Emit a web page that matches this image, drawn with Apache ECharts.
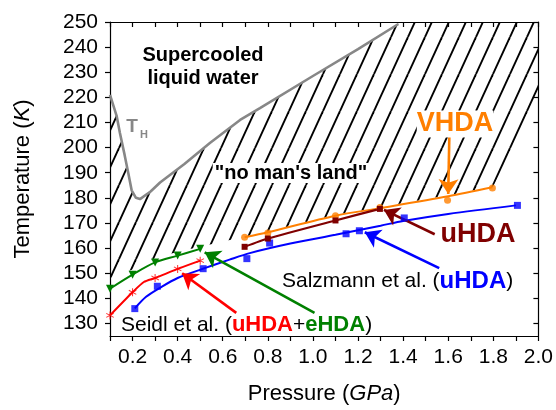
<!DOCTYPE html>
<html>
<head>
<meta charset="utf-8">
<script src="https://cdn.jsdelivr.net/npm/echarts@6/dist/echarts.min.js"></script>
<style>
  html, body { margin: 0; padding: 0; background: #fff; }
  #chart { width: 556px; height: 410px; }
</style>
</head>
<body>
<div id="chart"></div>
<script>
// Pressure (GPa) / temperature (K) pairs
const xTickLabels = ['0.2', '0.4', '0.6', '0.8', '1.0', '1.2', '1.4', '1.6', '1.8', '2.0'];
const yTickValues = [130, 140, 150, 160, 170, 180, 190, 200, 210, 220, 230, 240, 250];

// Homogeneous nucleation temperature T_H
const thCurve = [[0.10, 221.0], [0.13, 212.4], [0.144, 205.8], [0.165, 197.0], [0.181, 189.9],
  [0.196, 183.0], [0.215, 180.0], [0.233, 179.5], [0.28, 182.5], [0.322, 186.1], [0.43, 193.5],
  [0.543, 201.8], [0.677, 211.0], [0.765, 215.7], [1.0, 228.5], [1.2, 239.2], [1.379, 249.2]];

// "no man's land": lower edge of the hatched region (right to left)
const hatchFloor = [[2.0, 219.0], [1.8, 184.5], [1.6, 181.0], [1.3, 176.3], [1.1, 173.2],
  [0.8, 166.5], [0.7, 164.6], [0.5, 160.5], [0.4, 158.5], [0.3, 156.0], [0.2, 151.5], [0.1, 148.0]];

// Seidl et al., eHDA (green) and uHDA (red)
const seidlEhda = [[0.1, 143.8], [0.2, 149.4], [0.3, 154.3], [0.4, 157.0], [0.5, 159.7]];
const seidlUhda = [[0.1, 133.2], [0.2, 142.4], [0.3, 148.1], [0.4, 151.7], [0.5, 155.0]];
const seidlUhdaFit = [[0.1, 133.2], [0.2, 142.4], [0.25, 146.5], [0.3, 148.1], [0.4, 151.7], [0.5, 155.0]];

// Salzmann et al., uHDA (blue)
const salzmannUhda = [[0.21, 135.9], [0.31, 144.8], [0.513, 151.8], [0.707, 155.8], [0.808, 162.0],
  [1.147, 165.7], [1.206, 166.9], [1.405, 172.0], [1.907, 177.0]];
const salzmannFit = [[0.21, 136.0], [0.26, 140.6], [0.32, 144.1], [0.40, 148.1], [0.51, 151.7],
  [0.63, 155.4], [0.72, 158.0], [0.90, 161.8], [1.10, 165.3], [1.30, 168.9], [1.40, 170.8],
  [1.60, 173.6], [1.90, 177.0]];

// VHDA (orange) and uHDA (dark red)
const vhda = [[0.697, 164.3], [0.8, 166.0], [1.1, 172.9], [1.297, 176.2], [1.597, 179.0], [1.796, 183.9]];
const vhdaFit = [[0.697, 164.3], [0.8, 166.3], [1.1, 172.9], [1.3, 175.9], [1.6, 180.6], [1.796, 184.2]];
const uhda = [[0.697, 160.5], [0.8, 163.8], [1.1, 171.0], [1.297, 175.6]];

// Annotation arrows: [from, to]
const arrows = [
  { from: [1.605, 204.5], to: [1.600, 181.5], color: '#FF7F00' },
  { from: [1.540, 165.5], to: [1.315, 175.2], color: '#800000' },
  { from: [1.560, 152.0], to: [1.230, 166.3], color: '#0000FF' },
  { from: [0.660, 134.2], to: [0.420, 150.0], color: '#FF0000' },
  { from: [1.007, 134.2], to: [0.520, 158.3], color: '#008000' }
];

const FONT = "'Liberation Sans', Arial, sans-serif";

// Diagonal hatch tile
function makeHatch() {
  const W = 17, H = 37;
  const c = document.createElement('canvas');
  c.width = W; c.height = H;
  const ctx = c.getContext('2d');
  ctx.strokeStyle = '#000';
  ctx.lineWidth = 1.9;
  for (let k = -1; k <= 1; k++) {
    ctx.beginPath();
    ctx.moveTo(k * W, H);
    ctx.lineTo(k * W + W, 0);
    ctx.stroke();
  }
  return c;
}
const hatchTile = makeHatch();

// Region outline: along T_H, across the top, then back along the floor
const hatchOutline = thCurve.concat([[1.38, 250], [2.0, 250]], hatchFloor);

const asterisk = 'path://M-0.6,-5L0.6,-5L0.6,5L-0.6,5Z M-4.63,-2.0L-4.03,-3.04L4.63,2.0L4.03,3.04Z M-4.03,3.04L-4.63,2.0L4.03,-3.04L4.63,-2.0Z';

const chart = echarts.init(document.getElementById('chart'), null, { renderer: 'canvas' });

const axisLine = { show: true, onZero: false, lineStyle: { color: '#000', width: 1.2 } };

const option = {
  animation: false,
  backgroundColor: '#fff',
  grid: { left: 110, right: 17.5, top: 22, bottom: 73.5, containLabel: false },
  xAxis: [
    {
      type: 'value', min: 0.1, max: 2.0, interval: 0.1, position: 'bottom',
      axisLine: axisLine,
      axisTick: { show: true, inside: false, length: 5, lineStyle: { color: '#000', width: 1.2 } },
      axisLabel: {
        margin: 11, color: '#000', fontSize: 21, fontFamily: FONT,
        formatter: function (v) {
          const k = Math.round(v * 10);
          return k % 2 === 0 ? xTickLabels[k / 2 - 1] : '';
        }
      },
      splitLine: { show: false },
      name: 'Pressure ({i|GPa})', nameLocation: 'middle', nameGap: 47,
      nameTextStyle: { color: '#000', fontSize: 22, fontFamily: FONT,
        rich: { i: { fontStyle: 'italic', fontSize: 22, fontFamily: FONT, color: '#000' } } }
    },
    {
      type: 'value', min: 0.1, max: 2.0, interval: 0.1, position: 'top',
      axisLine: axisLine,
      axisTick: { show: true, inside: true, length: 5, lineStyle: { color: '#000', width: 1.2 } },
      axisLabel: { show: false }, splitLine: { show: false }
    }
  ],
  yAxis: [
    {
      type: 'value', min: 125, max: 250, interval: 5, position: 'left',
      axisLine: axisLine,
      axisTick: { show: true, inside: false, length: 5, customValues: yTickValues,
        lineStyle: { color: '#000', width: 1.2 } },
      axisLabel: { margin: 12, color: '#000', fontSize: 21, fontFamily: FONT, customValues: yTickValues },
      splitLine: { show: false },
      name: 'Temperature ({i|K})', nameLocation: 'middle', nameGap: 76, nameRotate: 90,
      nameTextStyle: { color: '#000', fontSize: 22, fontFamily: FONT,
        rich: { i: { fontStyle: 'italic', fontSize: 22, fontFamily: FONT, color: '#000' } } }
    },
    {
      type: 'value', min: 125, max: 250, interval: 5, position: 'right',
      axisLine: axisLine,
      axisTick: { show: true, inside: true, length: 5, customValues: yTickValues,
        lineStyle: { color: '#000', width: 1.2 } },
      axisLabel: { show: false }, splitLine: { show: false }
    }
  ],
  series: [
    {
      name: 'no man\'s land', type: 'custom', coordinateSystem: 'cartesian2d',
      data: [[1.0, 200]], silent: true, z: 1,
      renderItem: function (params, api) {
        const pts = hatchOutline.map(function (p) { return api.coord(p); });
        return {
          type: 'polygon',
          shape: { points: pts },
          style: { fill: { image: hatchTile, repeat: 'repeat' }, stroke: null }
        };
      }
    },
    {
      name: 'T_H', type: 'line', data: thCurve, showSymbol: false, z: 3, silent: true,
      lineStyle: { color: '#878787', width: 2.6 },
      markLine: {
        silent: true, symbol: ['none', 'arrow'], symbolSize: 15, animation: false,
        label: { show: false },
        data: arrows.map(function (a) {
          return [
            { coord: a.from, lineStyle: { color: a.color, width: 2.6, type: 'solid' }, itemStyle: { color: a.color } },
            { coord: a.to }
          ];
        })
      }
    },
    {
      name: 'Salzmann fit', type: 'line', data: salzmannFit, smooth: 0.3, showSymbol: false, z: 4,
      lineStyle: { color: '#0000FF', width: 2 }, silent: true
    },
    {
      name: 'Salzmann uHDA', type: 'scatter', data: salzmannUhda, symbol: 'rect', symbolSize: 7, z: 5,
      itemStyle: { color: '#0000FF' }, silent: true
    },
    {
      name: 'VHDA fit', type: 'line', data: vhdaFit, smooth: 0.3, showSymbol: false, z: 4,
      lineStyle: { color: '#FF7F00', width: 2 }, silent: true
    },
    {
      name: 'VHDA', type: 'scatter', data: vhda, symbol: 'circle', symbolSize: 7, z: 5,
      itemStyle: { color: '#FF7F00' }, silent: true
    },
    {
      name: 'uHDA', type: 'line', data: uhda, smooth: 0.2, symbol: 'rect', symbolSize: 6, showSymbol: true, z: 5,
      lineStyle: { color: '#800000', width: 2.2 }, itemStyle: { color: '#800000' }, silent: true
    },
    {
      name: 'Seidl eHDA', type: 'line', data: seidlEhda, smooth: 0.35, symbol: 'triangle', symbolRotate: 180,
      symbolSize: 8, showSymbol: true, z: 5,
      lineStyle: { color: '#008000', width: 2 }, itemStyle: { color: '#008000' }, silent: true
    },
    {
      name: 'Seidl uHDA fit', type: 'line', data: seidlUhdaFit, smooth: 0.25, showSymbol: false, z: 4,
      lineStyle: { color: '#FF0000', width: 2 }, silent: true
    },
    {
      name: 'Seidl uHDA', type: 'scatter', data: seidlUhda, symbol: asterisk, symbolSize: 8, z: 5,
      itemStyle: { color: '#FF0000' }, silent: true
    }
  ],
  graphic: [
    { type: 'text', x: 203, y: 55, z: 10, style: { text: 'Supercooled', font: 'bold 20px ' + FONT, fill: '#000', align: 'center', verticalAlign: 'middle' } },
    { type: 'text', x: 203, y: 78, z: 10, style: { text: 'liquid water', font: 'bold 20px ' + FONT, fill: '#000', align: 'center', verticalAlign: 'middle' } },
    { type: 'text', x: 291, y: 173, z: 10, style: { text: '"no man\'s land"', font: 'bold 20px ' + FONT, fill: '#000', align: 'center', verticalAlign: 'middle',
      backgroundColor: '#fff', padding: [0, 2] } },
    { type: 'text', x: 132, y: 127, z: 10, style: { text: 'T', font: 'bold 19px ' + FONT, fill: '#878787', align: 'center', verticalAlign: 'middle' } },
    { type: 'text', x: 144, y: 135, z: 10, style: { text: 'H', font: 'bold 11px ' + FONT, fill: '#878787', align: 'center', verticalAlign: 'middle' } },
    { type: 'text', x: 455, y: 124, z: 10, style: { text: 'VHDA', font: 'bold 27px ' + FONT, fill: '#FF7F00', align: 'center', verticalAlign: 'middle',
      backgroundColor: '#fff' } },
    { type: 'text', x: 478, y: 235, z: 10, style: { text: 'uHDA', font: 'bold 27px ' + FONT, fill: '#800000', align: 'center', verticalAlign: 'middle' } },
    { type: 'text', x: 282, y: 281, z: 10, style: {
      text: 'Salzmann et al. ({b|uHDA})', font: '21px ' + FONT, fill: '#000', align: 'left', verticalAlign: 'middle',
      rich: { b: { font: 'bold 24px ' + FONT, fill: '#0000FF', color: '#0000FF' } } } },
    { type: 'text', x: 121, y: 325, z: 10, style: {
      text: 'Seidl et al. ({r|uHDA}+{g|eHDA})', font: '21px ' + FONT, fill: '#000', align: 'left', verticalAlign: 'middle',
      rich: { r: { font: 'bold 22px ' + FONT, fill: '#FF0000', color: '#FF0000' }, g: { font: 'bold 22px ' + FONT, fill: '#008000', color: '#008000' } } } }
  ]
};

chart.setOption(option);
</script>
</body>
</html>
